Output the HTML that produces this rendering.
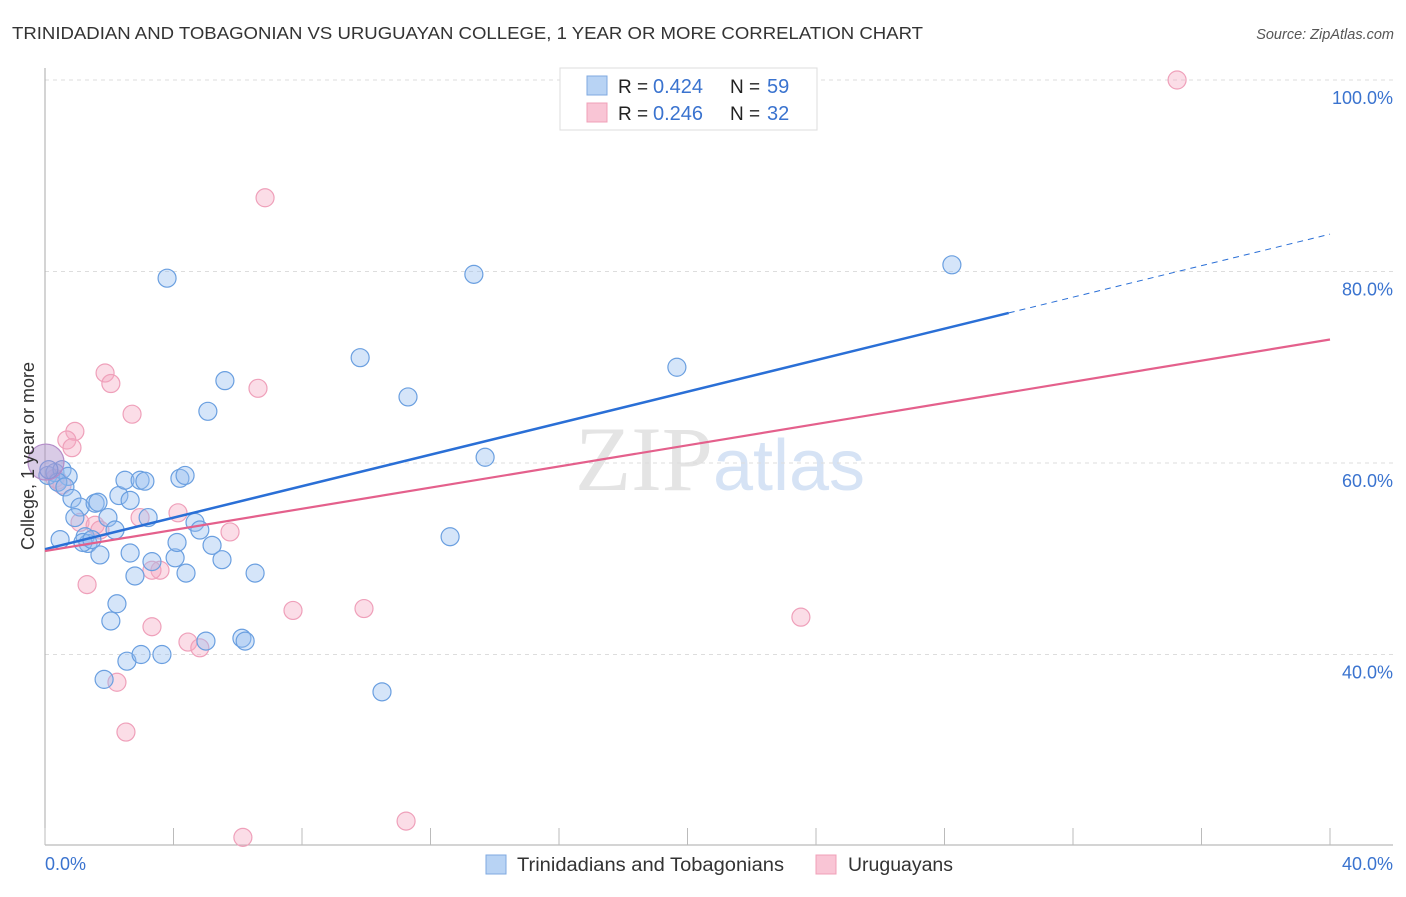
<!DOCTYPE html>
<html><head><meta charset="utf-8"><style>
body{margin:0;background:#fff;font-family:"Liberation Sans",sans-serif;}
</style></head><body>
<svg id="c" width="1406" height="892" xmlns="http://www.w3.org/2000/svg" style="font-family:'Liberation Sans',sans-serif">
<text x="12" y="39" font-size="17.5" fill="#333" textLength="911" lengthAdjust="spacingAndGlyphs">TRINIDADIAN AND TOBAGONIAN VS URUGUAYAN COLLEGE, 1 YEAR OR MORE CORRELATION CHART</text>
<text x="1394" y="39" font-size="14.5" fill="#555" font-style="italic" text-anchor="end">Source: ZipAtlas.com</text>
<text x="720" y="490" font-size="92" text-anchor="middle" fill="#e4e4e4" font-family="Liberation Serif">ZIP<tspan fill="#d6e3f5" font-family="Liberation Sans" font-size="72">atlas</tspan></text>
<g id="grid"></g>
<g id="axes"></g>
<g id="pts"></g>
<g id="lines"></g>
<text transform="translate(34,456) rotate(-90)" font-size="18" fill="#333" text-anchor="middle">College, 1 year or more</text>
<g>
<rect x="560" y="68" width="257" height="62" fill="#fff" stroke="#ddd"/>
<rect x="587" y="76" width="20" height="19" fill="#b8d3f4" stroke="#7fa9e0"/>
<rect x="587" y="103" width="20" height="19" fill="#f9c5d5" stroke="#f0a0b8"/>
<text x="618" y="93" font-size="19" fill="#222">R =</text>
<text x="653" y="93" font-size="20" fill="#3a73cf">0.424</text>
<text x="730" y="93" font-size="19" fill="#222">N =</text>
<text x="767" y="93" font-size="20" fill="#3a73cf">59</text>
<text x="618" y="120" font-size="19" fill="#222">R =</text>
<text x="653" y="120" font-size="20" fill="#3a73cf">0.246</text>
<text x="730" y="120" font-size="19" fill="#222">N =</text>
<text x="767" y="120" font-size="20" fill="#3a73cf">32</text>
</g>
<g>
<rect x="486" y="855" width="20" height="19" fill="#b8d3f4" stroke="#7fa9e0"/>
<text x="517" y="871" font-size="19" fill="#333" textLength="267" lengthAdjust="spacingAndGlyphs">Trinidadians and Tobagonians</text>
<rect x="816" y="855" width="20" height="19" fill="#f9c5d5" stroke="#f0a0b8"/>
<text x="848" y="871" font-size="19" fill="#333" textLength="105" lengthAdjust="spacingAndGlyphs">Uruguayans</text>
</g>
</svg>
<script>
const xTicks=[0,4,8,12,16,20,24,28,32,36,40];
const yTicks=[40,60,80,100];
const yTickLabels=["40.0%","60.0%","80.0%","100.0%"];
const blueX=[0.09,0.31,0.53,0.72,0.40,0.62,0.84,1.09,0.93,0.47,1.25,1.34,1.18,1.71,1.56,1.65,1.96,2.18,2.30,2.49,2.65,2.96,3.11,3.21,2.65,2.80,3.33,4.05,4.11,4.39,4.20,4.36,4.67,4.82,5.20,5.51,6.54,2.24,2.05,1.84,2.55,2.99,3.64,5.01,6.13,6.23,3.80,5.07,5.60,9.81,11.30,13.35,13.70,12.61,10.49,19.67,28.23,0.12,1.46];
const blueY=[58.7,59.0,59.3,58.6,58.0,57.5,56.3,55.4,54.3,52.0,52.3,51.6,51.7,50.4,55.8,55.9,54.3,53.0,56.6,58.2,56.1,58.2,58.1,54.3,50.6,48.2,49.7,50.1,51.7,48.5,58.4,58.7,53.8,53.0,51.4,49.9,48.5,45.3,43.5,37.4,39.3,40.0,40.0,41.4,41.7,41.4,79.3,65.4,68.6,71.0,66.9,79.7,60.6,52.3,36.1,70.0,80.7,59.3,52.0];
const pinkX=[35.24,6.85,1.87,2.05,2.71,0.93,0.68,0.84,0.40,1.09,1.56,2.96,4.14,5.76,3.58,3.33,1.31,3.33,4.45,4.82,2.24,2.52,6.16,7.72,9.93,11.24,23.53,6.63,0.31,0.53,1.71];
const pinkY=[100.0,87.7,69.4,68.3,65.1,63.3,62.4,61.6,58.2,53.8,53.5,54.3,54.8,52.8,48.8,48.8,47.3,42.9,41.3,40.7,37.1,31.9,20.9,44.6,44.8,22.6,43.9,67.8,58.4,57.7,53.0];
const bigX=[0.03], bigY=[60.1];
const blueTrend=[51.0,83.9], blueSolidEnd=30.0;
const pinkTrend=[50.8,72.9];
const NS="http://www.w3.org/2000/svg";
const sx=v=>45+v*32.125, sy=v=>80+(100-v)*9.575;
function mk(p,t,a){const e=document.createElementNS(NS,t);for(const k in a)e.setAttribute(k,a[k]);document.getElementById(p).appendChild(e);return e;}
yTicks.forEach((t,i)=>{
 const g=mk('grid','line',{x1:45,x2:1393,y1:sy(t),y2:sy(t),stroke:'#ddd','stroke-dasharray':'4,4'});
 
 
 const l=mk('grid','text',{x:1393,y:sy(t)+24,'font-size':18,fill:'#3a73cf','text-anchor':'end'});
 l.textContent=yTickLabels[i];
 
 
});
mk('axes','line',{x1:45,x2:45,y1:68,y2:845,stroke:'#aaa'});
mk('axes','line',{x1:45,x2:1393,y1:845,y2:845,stroke:'#aaa'});
xTicks.forEach(t=>{const e=mk('axes','line',{x1:sx(t),x2:sx(t),y1:828,y2:845,stroke:'#bbb'});
 
 });
[[0,'0.0%','start',45],[40,'40.0%','end',1393]].forEach(([v,s,a,x])=>{const e=mk('axes','text',{x:x,y:870,'font-size':18,fill:'#3a73cf','text-anchor':a});e.textContent=s;
 
 });
pinkX.forEach((x,i)=>{const c=mk('pts','circle',{cx:sx(x),cy:sy(pinkY[i]),r:9,fill:'rgba(246,170,196,0.4)',stroke:'#efa0ba','stroke-width':1.2});
 
 });
blueX.forEach((x,i)=>{const c=mk('pts','circle',{cx:sx(x),cy:sy(blueY[i]),r:9,fill:'rgba(150,190,240,0.4)',stroke:'#6a9fe0','stroke-width':1.2});
 
 });
bigX.forEach((x,i)=>{const c=mk('pts','circle',{cx:sx(x),cy:sy(bigY[i]),r:18,fill:'rgba(170,140,200,0.45)',stroke:'#b48cc8','stroke-width':1.2});
 
 });
const bAt=x=>blueTrend[0]+(blueTrend[1]-blueTrend[0])*x/40;
let e=mk('lines','line',{x1:sx(0),y1:sy(bAt(0)),x2:sx(blueSolidEnd),y2:sy(bAt(blueSolidEnd)),stroke:'#2a6fd6','stroke-width':2.5});


e=mk('lines','line',{x1:sx(blueSolidEnd),y1:sy(bAt(blueSolidEnd)),x2:sx(40),y2:sy(bAt(40)),stroke:'#2a6fd6','stroke-width':1,'stroke-dasharray':'6,5'});


e=mk('lines','line',{x1:sx(0),y1:sy(pinkTrend[0]),x2:sx(40),y2:sy(pinkTrend[1]),stroke:'#e4608c','stroke-width':2.2});


</script>
</body></html>
